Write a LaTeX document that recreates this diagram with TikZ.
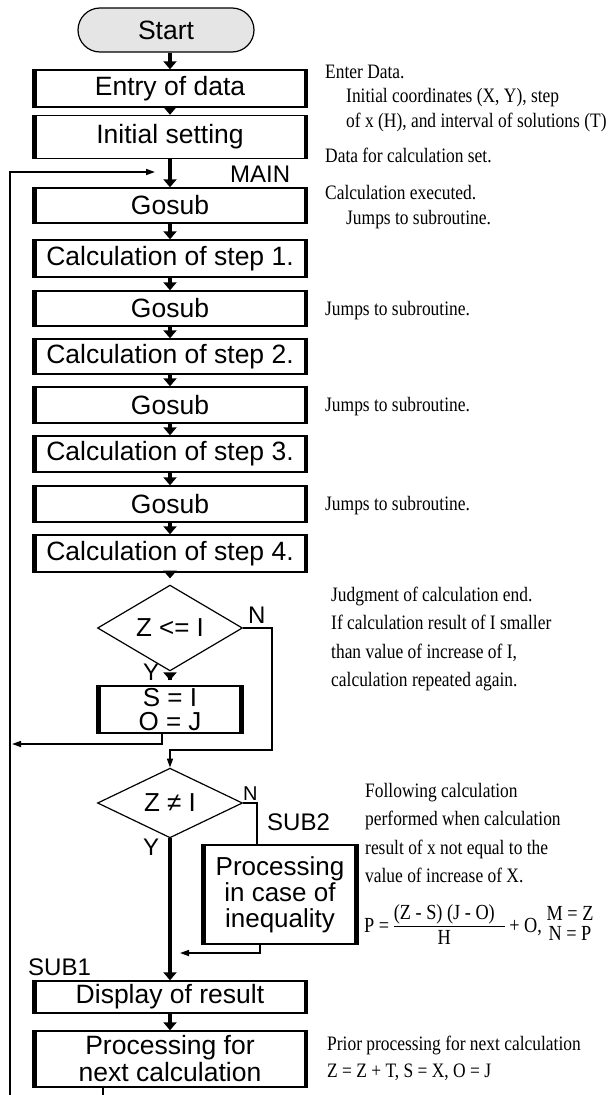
\documentclass[tikz,border=0pt]{standalone}
\usepackage{fontspec}
\setmainfont{Liberation Sans}
\newfontfamily\notefont[FakeStretch=0.85]{Liberation Serif}
\usetikzlibrary{shapes.geometric,arrows.meta}
\setlength\arrayrulewidth{1.2pt}

\begin{document}
\begin{tikzpicture}[x=1pt, y=-1pt,
    every node/.style={inner sep=0pt},
    startbox/.style={draw, line width=1.2pt, fill=gray!20, rounded corners=22pt,
        minimum width=176pt, minimum height=44pt, font=\fontsize{26.5}{27}\selectfont},
    procbox/.style={draw, line width=1.4pt, minimum width=275pt, minimum height=36pt,
        align=center, font=\fontsize{26.5}{27}\selectfont,
        path picture={
            \fill (path picture bounding box.north west) rectangle ([xshift=4pt]path picture bounding box.south west);
            \fill (path picture bounding box.north east) rectangle ([xshift=-4pt]path picture bounding box.south east);}},
    decbox/.style={diamond, draw, line width=1.2pt, minimum width=145pt, minimum height=67pt,
        font=\fontsize{26}{27}\selectfont},
    flow/.style={line width=4.5pt, -{Triangle[length=8pt, width=13pt]}},
    back/.style={line width=1.6pt, -{Triangle[length=9pt, width=6pt]}},
    link/.style={line width=1.6pt},
    lbl/.style={anchor=base west, font=\fontsize{24}{24}\selectfont},
    note/.style={anchor=base west, align=left, font=\notefont\fontsize{20.5}{24.5}\selectfont}]

        \useasboundingbox (0,0) rectangle (608,1095);

        % Main column of the flowchart
        \node[startbox] (start) at (166,30) {Start};
        \node[procbox, minimum height=37pt] (entry) at (170,88.5) {Entry of data};
        \node[procbox, minimum height=43pt] (init) at (170,137) {Initial setting};
        \node[procbox, minimum height=35pt] (gosub1) at (170,205.5) {Gosub};
        \node[procbox, minimum height=37pt] (calc1) at (170,258.5) {Calculation of step 1.};
        \node[procbox, minimum height=35pt] (gosub2) at (170,308.5) {Gosub};
        \node[procbox, minimum height=35pt] (calc2) at (170,356.5) {Calculation of step 2.};
        \node[procbox] (gosub3) at (170,405) {Gosub};
        \node[procbox] (calc3) at (170,454) {Calculation of step 3.};
        \node[procbox] (gosub4) at (170,504) {Gosub};
        \node[procbox, minimum height=37pt] (calc4) at (170,553.5) {Calculation of step 4.};
        \node[decbox] (dec1) at (170,628) {Z <= I};
        \node[procbox, minimum width=146pt, minimum height=47pt, font=\fontsize{26}{24}\selectfont] (seto) at (170,709.5) {S = I\\O = J};
        \node[decbox, minimum height=66pt] (dec2) at (170,803) {Z ≠ I};
        \node[procbox, minimum width=156pt, minimum height=99pt, font=\fontsize{26}{26}\selectfont] (sub2) at (280,894.5) {Processing\\in case of\\inequality};
        \node[procbox, minimum height=32pt] (display) at (170,997) {Display of result};
        \node[procbox, minimum height=56pt] (next) at (170,1059) {Processing for\\next calculation};

        % Labels beside the chart
        \node[lbl] (mainlbl) at (230,182) {MAIN};
        \node[lbl] (n1) at (248,623) {N};
        \node[lbl] (y1) at (143,680) {Y};
        \node[lbl, font=\fontsize{20}{20}\selectfont] (n2) at (243,800) {N};
        \node[lbl] (sub2lbl) at (267,830) {SUB2};
        \node[lbl] (y2) at (143,855) {Y};
        \node[lbl] (sub1lbl) at (28,975) {SUB1};

        % Points for the return lines
        \coordinate (loopin) at (155,172);
        \coordinate (loopleft) at (10,1100);
        \coordinate (setoout) at (12,744);
        \coordinate (nturn) at (272,750);
        \coordinate (sub2in) at (180,953);

        % Arrows
        \draw[flow] (start.south -| entry.north) -- (entry.north);
        \draw[flow] (entry) -- (init);
        \draw[flow] (init) -- (gosub1);
        \draw[flow] (gosub1) -- (calc1);
        \draw[flow] (calc1) -- (gosub2);
        \draw[flow] (gosub2) -- (calc2);
        \draw[flow] (calc2) -- (gosub3);
        \draw[flow] (gosub3) -- (calc3);
        \draw[flow] (calc3) -- (gosub4);
        \draw[flow] (gosub4) -- (calc4);
        \draw[flow] (calc4.south) -- ([yshift=6pt]dec1.north);
        \draw[flow, line width=3.5pt, shorten <=8pt, shorten >=5pt] (dec1.south) -- (seto.north);
        \draw[back] (dec1.east) -| (nturn) -| (dec2.north);
        \draw[back] ([xshift=-8pt]seto.south) |- (setoout);
        \draw[link] (dec2.east) -| ([xshift=-23pt]sub2.north);
        \draw[back] ([xshift=-20pt]sub2.south) |- (sub2in);
        \draw[flow] (dec2.south) -- (display.north);
        \draw[flow] (display) -- (next);
        \draw[back] ([xshift=-67pt]next.south) |- (loopleft) |- (loopin);

        % Notes on the right (base is the last line)
        \node[note] (note1) at (325,127) {Enter Data.\\\hspace*{21pt}Initial coordinates (X, Y), step\\\hspace*{21pt}of x (H), and interval of solutions (T)};
        \node[note] (note2) at (325,162) {Data for calculation set.};
        \node[note] (note3) at (325,224) {Calculation executed.\\\hspace*{21pt}Jumps to subroutine.};
        \node[note] (note4) at (325,315) {Jumps to subroutine.};
        \node[note] (note5) at (325,411) {Jumps to subroutine.};
        \node[note] (note6) at (325,510) {Jumps to subroutine.};
        \node[note, font=\notefont\fontsize{20.5}{28.5}\selectfont] (note7) at (331,686.5) {Judgment of calculation end.\\If calculation result of I smaller\\than value of increase of I,\\calculation repeated again.};
        \node[note, font=\notefont\fontsize{20.5}{28.5}\selectfont] (note8) at (365,882.5) {Following calculation\\performed when calculation\\result of x not equal to the\\value of increase of X.};
        \node[note, font=\notefont\fontsize{21.5}{24}\selectfont] (formula) at (364,932) {P = \begin{tabular}{@{}c@{\hspace{10pt}}}(Z - S) (J - O)\\\hline H\end{tabular} + O, {\def\arraystretch{0.82}\begin{tabular}{@{}c@{}}M = Z\\N = P\end{tabular}}};
        \node[note, font=\notefont\fontsize{20.5}{27}\selectfont] (note9) at (327,1077) {Prior processing for next calculation\\Z = Z + T, S = X, O = J};

    \end{tikzpicture}
\end{document}
